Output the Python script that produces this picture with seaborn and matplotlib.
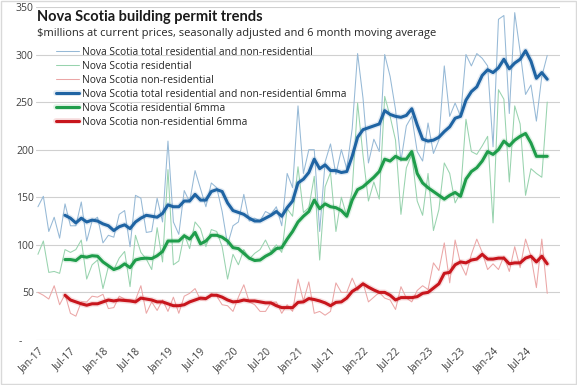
import numpy as np
import pandas as pd
import seaborn as sns
import matplotlib.pyplot as plt
import matplotlib.patheffects as pe
from matplotlib.patches import Rectangle

# monthly, Jan-17 .. Nov-24 ($ millions)
months = pd.date_range('2017-01-01', '2024-11-01', freq='MS')

total = [140, 151, 114, 129, 107, 143, 120, 120, 145, 104,
         125, 129, 102, 110, 108, 132, 136, 98, 152, 149,
         113, 114, 149, 124, 209, 124, 111, 157, 145, 178,
         159, 140, 165, 160, 135, 100, 120, 124, 153, 125,
         128, 125, 135, 132, 140, 120, 175, 160, 246, 175,
         200, 200, 114, 187, 206, 174, 200, 180, 222, 301,
         254, 186, 211, 198, 300, 277, 242, 188, 225, 235,
         198, 188, 228, 196, 210, 288, 235, 249, 235, 300,
         288, 301, 296, 288, 203, 337, 341, 238, 344, 303,
         258, 268, 230, 277, 299]
residential = [90, 104, 71, 72, 70, 95, 92, 95, 105, 64,
               79, 84, 54, 77, 74, 86, 93, 56, 110, 92,
               85, 74, 118, 82, 179, 79, 83, 111, 96, 124,
               117, 98, 116, 114, 98, 64, 90, 79, 95, 85,
               91, 95, 105, 93, 100, 92, 138, 130, 182, 134,
               139, 172, 84, 161, 176, 114, 150, 130, 157, 249,
               194, 146, 166, 148, 256, 235, 210, 132, 181, 195,
               146, 131, 175, 115, 137, 186, 175, 144, 155, 232,
               198, 195, 204, 214, 123, 263, 253, 166, 246, 227,
               152, 180, 175, 171, 250]
non_residential = [50, 47, 43, 57, 37, 48, 28, 25, 40, 40,
                   46, 45, 48, 33, 34, 46, 43, 42, 42, 57,
                   28, 40, 31, 42, 30, 45, 28, 46, 49, 54,
                   42, 42, 49, 46, 37, 36, 30, 45, 58, 40,
                   37, 30, 30, 39, 40, 28, 37, 30, 64, 41,
                   61, 28, 30, 26, 30, 60, 50, 50, 65, 52,
                   60, 40, 45, 50, 44, 42, 32, 56, 44, 40,
                   52, 57, 53, 81, 73, 102, 60, 105, 80, 68,
                   90, 106, 92, 74, 80, 74, 88, 72, 98, 76,
                   106, 88, 55, 106, 49]

# 6 month moving averages, Jun-17 .. Nov-24
total_6mma = [131, 128, 123, 128, 124, 126, 125, 122, 120, 115,
              119, 121, 117, 124, 128, 131, 130, 129, 133, 142,
              140, 140, 146, 146, 153, 147, 147, 156, 158, 156,
              144, 136, 134, 132, 128, 125, 125, 128, 131, 135,
              130, 139, 146, 165, 169, 176, 190, 180, 184, 178,
              178, 176, 177, 193, 213, 221, 223, 225, 227, 241,
              237, 235, 234, 236, 243, 226, 211, 209, 210, 213,
              219, 224, 233, 235, 252, 261, 266, 278, 284, 281,
              286, 295, 285, 291, 295, 304, 293, 275, 281, 274]
residential_6mma = [84.5, 84.5, 83.5, 88, 87, 88.5, 88, 82, 78, 74,
                    76, 80, 76, 84, 85.5, 86, 85.5, 88.5, 93, 104,
                    104, 104, 109.5, 106, 113, 101, 104, 110, 110, 108,
                    104, 97, 96, 91, 86, 83.5, 84, 88, 91, 96,
                    97, 106, 114, 124, 130, 135, 147, 138, 143, 140,
                    139, 136, 130, 147, 158, 161, 166, 171, 177, 190,
                    188, 193, 190, 190, 198, 175, 165, 160, 156, 152,
                    148, 152, 155, 151, 169, 177, 181, 188, 198, 195,
                    200, 209, 204, 210, 214, 217, 207, 193, 193, 193]
non_residential_6mma = [47, 42, 40, 38, 36.5, 38, 38, 40, 42, 41,
                        42, 41.5, 41, 40, 44, 43, 42, 40, 40, 38,
                        36, 36, 37, 40, 42, 44, 43.5, 47, 47, 45,
                        42, 40, 40.5, 42, 41, 41, 40, 39, 39, 36,
                        34, 34, 34, 39.5, 40, 43.5, 42.5, 41, 39, 36,
                        39.5, 40, 44, 51, 54.5, 59, 55.5, 52.5, 50, 50,
                        47, 42, 44.5, 44.5, 44.5, 45.5, 49, 50, 54.5, 59,
                        70, 71, 79, 82, 81, 84, 85, 90, 85, 85,
                        86, 86, 80, 81, 81, 86, 88, 82, 88, 80]

tick_labels = ['Jan-17', 'Jul-17', 'Jan-18', 'Jul-18', 'Jan-19', 'Jul-19',
               'Jan-20', 'Jul-20', 'Jan-21', 'Jul-21', 'Jan-22', 'Jul-22',
               'Jan-23', 'Jul-23', 'Jan-24', 'Jul-24']

pad = [np.nan] * 5
df = pd.DataFrame({
    'm': np.arange(len(months)),
    'Nova Scotia total residential and non-residential': total,
    'Nova Scotia residential': residential,
    'Nova Scotia non-residential': non_residential,
    'Nova Scotia total residential and non-residential 6mma': pad + total_6mma,
    'Nova Scotia residential 6mma': pad + residential_6mma,
    'Nova Scotia non-residential 6mma': pad + non_residential_6mma,
})

styles = [
    ('Nova Scotia total residential and non-residential', '#96b9d6', 0.75, False),
    ('Nova Scotia residential', '#98d3ae', 0.75, False),
    ('Nova Scotia non-residential', '#eba6a6', 0.75, False),
    ('Nova Scotia total residential and non-residential 6mma', '#1f64a3', 2.2, True),
    ('Nova Scotia residential 6mma', '#1f9d4b', 2.2, True),
    ('Nova Scotia non-residential 6mma', '#c8161d', 2.2, True),
]

sns.set_style('white')
plt.rcParams['font.family'] = ['Open Sans', 'DejaVu Sans']

fig = plt.figure(figsize=(5.77, 3.85), dpi=100)
ax = fig.add_axes([0.062, 0.117, 0.908, 0.865])

for col, color, lw, glow in styles:
    sns.lineplot(data=df, x='m', y=col, color=color, linewidth=lw, ax=ax, label=col)
    if glow:
        ax.lines[-1].set_path_effects([pe.Stroke(linewidth=lw + 2, foreground=color, alpha=0.13),
                                       pe.Normal()])

ax.set_ylim(0, 350)
ax.set_xlim(-0.4, 96.3)
ax.set_yticks(range(0, 351, 50))
ax.set_yticklabels(['-    '] + [str(v) for v in range(50, 351, 50)])
ax.set_xticks(range(0, 96, 6))
ax.set_xticklabels(tick_labels, rotation=45, ha='right', rotation_mode='anchor')
ax.tick_params(axis='both', labelsize=7.5, colors='#404040', length=0)
ax.tick_params(axis='y', pad=1.5)
ax.tick_params(axis='x', pad=4)
ax.grid(axis='y', color='#d0d0d0', linewidth=0.8)
ax.grid(axis='x', visible=False)
ax.set_xlabel('')
ax.set_ylabel('')
sns.despine(ax=ax, left=True, bottom=True)

leg = ax.legend(loc='upper left', bbox_to_anchor=(0.03, 0.893), frameon=False,
                fontsize=7.4, handlelength=2.3, handletextpad=0.25,
                labelspacing=0.29, borderaxespad=0)
for t in leg.get_texts():
    t.set_color('#262626')

fig.text(0.064, 0.955, 'Nova Scotia building permit trends', fontsize=10.5,
         fontweight='bold', color='#1a1a1a', va='center', family=['Lato', 'DejaVu Sans'])
fig.text(0.064, 0.912, '$millions at current prices, seasonally adjusted and 6 month moving average',
         fontsize=8, color='#262626', va='center')

fig.patches.append(Rectangle((0.002, 0.002), 0.996, 0.996, transform=fig.transFigure,
                             fill=False, edgecolor='#d9d9d9', linewidth=1))

fig.savefig('out.png', dpi=100)
